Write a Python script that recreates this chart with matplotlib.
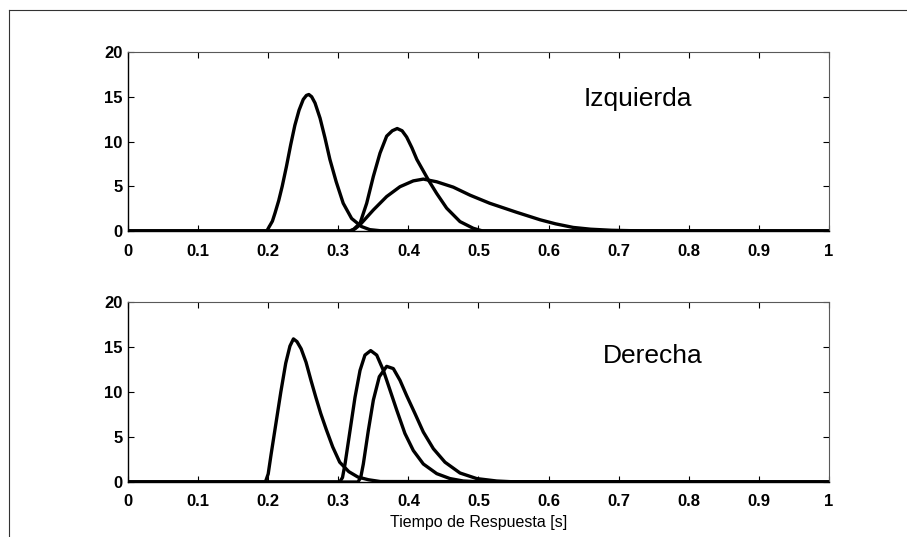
# -*- coding: utf-8 -*-
"""
Distribuciones del tiempo de respuesta (izquierda / derecha), estilo MATLAB.
Salida: out.png
"""
import matplotlib
matplotlib.use("Agg")
import matplotlib.pyplot as plt
from matplotlib.lines import Line2D

plt.rcParams["font.family"] = ["Liberation Sans", "DejaVu Sans"]

# --- datos (tiempo [s], densidad) ---
izq_a_t = [0, 0.198, 0.2016, 0.206, 0.2097, 0.215, 0.22, 0.226, 0.232, 0.238, 0.244,
           0.25, 0.2545, 0.258, 0.262, 0.2668, 0.274, 0.281, 0.288, 0.297, 0.307,
           0.319, 0.333, 0.345, 0.36, 1]
izq_a_y = [0, 0, 0.5, 1.1, 2.0, 3.4, 5.0, 7.2, 9.6, 11.8, 13.5,
           14.7, 15.15, 15.25, 15.0, 14.3, 12.6, 10.4, 8.0, 5.5, 3.1,
           1.4, 0.5, 0.15, 0.03, 0]

izq_b_t = [0, 0.316, 0.322, 0.331, 0.3405, 0.35, 0.3595, 0.369, 0.377, 0.384, 0.391,
           0.3975, 0.405, 0.412, 0.4285, 0.4403, 0.4546, 0.4736, 0.4926, 0.506, 1]
izq_b_y = [0, 0, 0.2, 0.86, 3.1, 6.1, 8.7, 10.6, 11.2, 11.45, 11.2,
           10.5, 9.3, 8.0, 5.7, 4.2, 2.55, 1.05, 0.3, 0, 0]

izq_c_t = [0, 0.318, 0.324, 0.331, 0.35, 0.369, 0.388, 0.407, 0.4213, 0.4403, 0.464,
           0.488, 0.516, 0.554, 0.588, 0.61, 0.635, 0.66, 0.69, 0.74, 1]
izq_c_y = [0, 0, 0.25, 0.7, 2.35, 3.85, 4.95, 5.6, 5.8, 5.5, 4.9,
           4.0, 3.1, 2.1, 1.25, 0.8, 0.4, 0.2, 0.08, 0, 0]

der_a_t = [0, 0.19, 0.196, 0.200, 0.204, 0.211, 0.218, 0.225, 0.231, 0.236, 0.241,
           0.247, 0.254, 0.261, 0.268, 0.275, 0.283, 0.292, 0.302, 0.315, 0.328,
           0.343, 0.36, 1]
der_a_y = [0, 0, 0, 0.9, 3.0, 6.5, 10.0, 13.2, 15.1, 15.9, 15.6,
           14.8, 13.3, 11.3, 9.4, 7.6, 5.8, 3.9, 2.2, 1.15, 0.55,
           0.25, 0.05, 0]

der_b_t = [0, 0.302, 0.306, 0.3096, 0.3167, 0.3238, 0.331, 0.338, 0.3462, 0.3548, 0.3643,
           0.3738, 0.3833, 0.395, 0.407, 0.4213, 0.4404, 0.4593, 0.4783, 0.50, 1]
der_b_y = [0, 0, 0.5, 2.0, 5.7, 9.4, 12.4, 14.1, 14.6, 14.1, 12.4,
           10.2, 8.0, 5.4, 3.5, 2.0, 0.93, 0.38, 0.11, 0.02, 0]

der_c_t = [0, 0.328, 0.332, 0.3357, 0.3428, 0.35, 0.3585, 0.369, 0.3785, 0.388, 0.3975,
           0.4094, 0.4213, 0.4356, 0.4522, 0.4736, 0.4974, 0.526, 0.55, 1]
der_c_y = [0, 0, 0.5, 2.0, 5.7, 9.1, 11.7, 12.85, 12.6, 11.3, 9.6,
           7.6, 5.55, 3.7, 2.2, 1.0, 0.38, 0.11, 0.02, 0]

x_ticks = [0, 0.1, 0.2, 0.3, 0.4, 0.5, 0.6, 0.7, 0.8, 0.9, 1]
x_labels = ["0", "0.1", "0.2", "0.3", "0.4", "0.5", "0.6", "0.7", "0.8", "0.9", "1"]
y_ticks = [0, 5, 10, 15, 20]


def estilo_matlab(ax):
    ax.set_xlim(0, 1)
    ax.set_ylim(0, 20)
    ax.set_xticks(x_ticks)
    ax.set_xticklabels(x_labels)
    ax.set_yticks(y_ticks)
    ax.tick_params(direction="in", top=True, right=True, length=4, width=0.8)
    ax.tick_params(axis="x", labelsize=12, pad=9)
    ax.tick_params(axis="y", labelsize=12, pad=4)
    for lab in ax.get_xticklabels() + ax.get_yticklabels():
        lab.set_fontweight("bold")
    for s in ax.spines.values():
        s.set_linewidth(1.0)
    for s in ("top", "right"):
        ax.spines[s].set_color("0.35")
        ax.spines[s].set_linewidth(0.8)


def panel(ax, curvas, texto, tx, ty):
    for t, y in curvas:
        ax.plot(t, y, color="k", lw=2.4, solid_joinstyle="round", solid_capstyle="round")
    estilo_matlab(ax)
    ax.text(tx, ty, texto, ha="center", va="baseline", fontsize=19)


def main():
    W, H = 907, 537
    fig = plt.figure(figsize=(W / 100, H / 100), dpi=100)

    # posiciones medidas en pixeles sobre la figura original
    ax1 = fig.add_axes([128 / W, 1 - 231 / H, 701 / W, 179 / H])
    ax2 = fig.add_axes([128 / W, 1 - 482 / H, 701 / W, 180 / H])

    panel(ax1, [(izq_a_t, izq_a_y), (izq_b_t, izq_b_y), (izq_c_t, izq_c_y)],
          "Izquierda", 0.727, 14.0)
    panel(ax2, [(der_a_t, der_a_y), (der_b_t, der_b_y), (der_c_t, der_c_y)],
          "Derecha", 0.748, 13.2)
    ax2.set_xlabel("Tiempo de Respuesta [s]", fontsize=11.5, labelpad=4)

    # marco de la hoja escaneada
    fig.add_artist(Line2D([9 / W, 1], [1 - 10 / H, 1 - 10 / H],
                          transform=fig.transFigure, color="0.2", lw=0.8))
    fig.add_artist(Line2D([9 / W, 9 / W], [0, 1 - 10 / H],
                          transform=fig.transFigure, color="0.2", lw=0.8))

    fig.savefig("out.png", dpi=100)
    plt.close(fig)


if __name__ == "__main__":
    main()
